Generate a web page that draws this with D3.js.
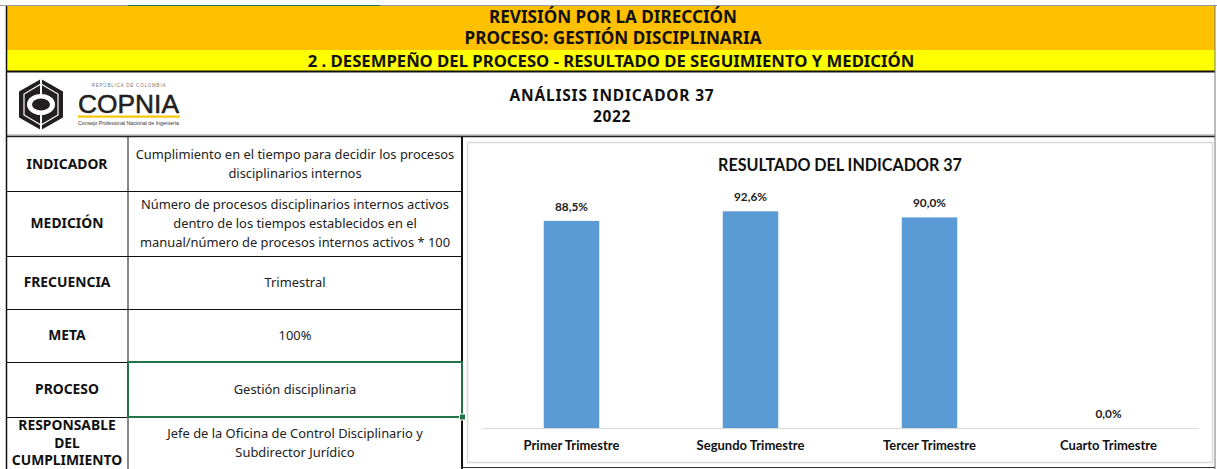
<!DOCTYPE html>
<html>
<head>
<meta charset="utf-8">
<script src="https://cdn.jsdelivr.net/npm/d3@7/dist/d3.min.js"></script>
<style>
  body { margin: 0; background: #fff; }
  svg { display: block; }
</style>
</head>
<body>
<svg id="sheet"></svg>
<script>
// ---- data ----
const headerLines = ['REVISIÓN POR LA DIRECCIÓN', 'PROCESO: GESTIÓN DISCIPLINARIA'];
const sectionTitle = '2 . DESEMPEÑO DEL PROCESO - RESULTADO DE SEGUIMIENTO Y MEDICIÓN';
const analysisTitle = ['ANÁLISIS INDICADOR 37', '2022'];

const rowLabels = [
  ['INDICADOR'],
  ['MEDICIÓN'],
  ['FRECUENCIA'],
  ['META'],
  ['PROCESO'],
  ['RESPONSABLE', 'DEL', 'CUMPLIMIENTO']
];
const rowValues = [
  ['Cumplimiento en el tiempo para decidir los procesos', 'disciplinarios internos'],
  ['Número de procesos disciplinarios internos activos', 'dentro de los tiempos establecidos en el', 'manual/número de procesos internos activos * 100'],
  ['Trimestral'],
  ['100%'],
  ['Gestión disciplinaria'],
  ['Jefe de la Oficina de Control Disciplinario y', 'Subdirector Jurídico']
];

const chartTitle = 'RESULTADO DEL INDICADOR 37';
const quarters = ['Primer Trimestre', 'Segundo Trimestre', 'Tercer Trimestre', 'Cuarto Trimestre'];
const results = [88.5, 92.6, 90.0, 0.0];

// ---- layout ----
const W = 1217, H = 469;
const svg = d3.select('#sheet').attr('width', W).attr('height', H);

const tableFont = '"Noto Sans", "DejaVu Sans", sans-serif';
const chartFont = 'Lato, "Open Sans", sans-serif';

function textWidth(family, weight, size, str) {
  const t = svg.append('text')
      .style('font-family', family).style('font-weight', weight)
      .style('font-size', size + 'px').text(str);
  const w = t.node().getComputedTextLength();
  t.remove();
  return w;
}

// font size so that a string is as wide as in the reference
function fitSize(family, weight, str, target) {
  return 20 * target / textWidth(family, weight, 20, str);
}

// letter spacing that brings a string at a given size to the reference width
function fitSpacing(family, weight, size, str, target) {
  return (target - textWidth(family, weight, size, str)) / str.length;
}

// header bands
svg.append('rect').attr('x', 6).attr('y', 6).attr('width', 1209).attr('height', 44).attr('fill', '#ffc000');
svg.append('rect').attr('x', 6).attr('y', 50).attr('width', 1209).attr('height', 21).attr('fill', '#ffff00');
svg.append('line').attr('x1', 0).attr('x2', W).attr('y1', 5.5).attr('y2', 5.5).attr('stroke', '#9a9a9a');
svg.append('line').attr('x1', 128).attr('x2', 380).attr('y1', 5.5).attr('y2', 5.5).attr('stroke', '#217346');
svg.append('line').attr('x1', 6).attr('x2', 1215).attr('y1', 71.5).attr('y2', 71.5).attr('stroke', '#111').attr('stroke-width', 2);
svg.append('line').attr('x1', 6).attr('x2', 1215).attr('y1', 135).attr('y2', 135).attr('stroke', '#999');
svg.append('line').attr('x1', 6).attr('x2', 1215).attr('y1', 136.5).attr('y2', 136.5).attr('stroke', '#222').attr('stroke-width', 1.5);

const hdrWidths = [248, 297];
const hdrSize = fitSize(tableFont, 700, headerLines[0], 248);
svg.selectAll('.hdr')
  .data(headerLines)
  .join('text')
    .attr('class', 'hdr')
    .attr('x', 613)
    .attr('y', (d, i) => 17 + i * 21)
    .attr('dy', '0.36em')
    .attr('text-anchor', 'middle')
    .style('font-family', tableFont).style('font-weight', 700)
    .style('font-size', hdrSize + 'px').attr('fill', '#111')
    .attr('letter-spacing', (d, i) => fitSpacing(tableFont, 700, hdrSize, d, hdrWidths[i]))
    .text(d => d);

svg.append('text')
    .attr('x', 611).attr('y', 61).attr('dy', '0.36em')
    .attr('text-anchor', 'middle')
    .style('font-family', tableFont).style('font-weight', 700)
    .style('font-size', fitSize(tableFont, 700, sectionTitle, 607) + 'px')
    .attr('fill', '#111')
    .text(sectionTitle);

const anWidths = [205, 38];
const anSize = 0.92 * fitSize(tableFont, 700, analysisTitle[0], 205);
svg.selectAll('.an')
  .data(analysisTitle)
  .join('text')
    .attr('class', 'an')
    .attr('x', 612)
    .attr('y', (d, i) => 95 + i * 21)
    .attr('dy', '0.36em')
    .attr('text-anchor', 'middle')
    .style('font-family', tableFont).style('font-weight', 700)
    .style('font-size', anSize + 'px').attr('fill', '#111')
    .attr('letter-spacing', (d, i) => fitSpacing(tableFont, 700, anSize, d, anWidths[i]))
    .text(d => d);

// logo
const logo = svg.append('g');
const hex = [[41, 79], [63, 91.5], [63, 117.5], [41, 130], [19, 117.5], [19, 91.5]];
logo.append('path').attr('d', d3.line()(hex) + 'Z').attr('fill', '#231f20');
logo.append('path').attr('d', d3.line()([[41, 84], [58, 94], [58, 115], [41, 125], [24, 115], [24, 94]]) + 'Z')
    .attr('fill', 'none').attr('stroke', '#fff').attr('stroke-width', 1.2);
logo.append('ellipse').attr('cx', 41).attr('cy', 104.5).attr('rx', 14).attr('ry', 10.5).attr('fill', '#fff');
logo.append('ellipse').attr('cx', 41).attr('cy', 104.5).attr('rx', 9).attr('ry', 6).attr('fill', '#231f20');
logo.append('line').attr('x1', 41).attr('x2', 41).attr('y1', 78).attr('y2', 94).attr('stroke', '#fff').attr('stroke-width', 2);
logo.append('line').attr('x1', 41).attr('x2', 41).attr('y1', 115).attr('y2', 131).attr('stroke', '#fff').attr('stroke-width', 2);
logo.append('text').attr('x', 129).attr('y', 86.5).attr('text-anchor', 'middle')
    .style('font-family', 'Liberation Sans, sans-serif').style('font-size', '4.5px').attr('fill', '#777')
    .attr('letter-spacing', 0.8).text('REPÚBLICA DE COLOMBIA');
logo.append('text').attr('x', 78).attr('y', 113).attr('textLength', 101).attr('lengthAdjust', 'spacingAndGlyphs')
    .style('font-family', '"Liberation Sans Narrow", "Liberation Sans", sans-serif').style('font-size', '25px')
    .attr('fill', '#231f20').attr('stroke', '#231f20').attr('stroke-width', 0.5)
    .text('COPNIA');
logo.append('rect').attr('x', 78).attr('y', 115.5).attr('width', 102).attr('height', 2.2).attr('fill', '#f7c600');
logo.append('text').attr('x', 78).attr('y', 125).attr('textLength', 101).attr('lengthAdjust', 'spacingAndGlyphs')
    .style('font-family', 'Liberation Sans, sans-serif').style('font-size', '5px').attr('fill', '#333')
    .text('Consejo Profesional Nacional de Ingeniería');

// ---- table ----
const rowEdges = [137, 191, 256, 309, 362, 417, 469];
const labelSize = fitSize(tableFont, 700, 'INDICADOR', 81);
const valueSize = fitSize(tableFont, 400, rowValues[0][0], 319);

const rows = svg.selectAll('.row')
  .data(rowLabels.map((l, i) => ({label: l, value: rowValues[i], y0: rowEdges[i], y1: rowEdges[i + 1]})))
  .join('g')
    .attr('class', 'row');

rows.append('line')
    .attr('x1', 6).attr('x2', 462)
    .attr('y1', d => d.y1 + 0.5).attr('y2', d => d.y1 + 0.5)
    .attr('stroke', '#111');

rows.each(function(d) {
  const g = d3.select(this);
  const mid = (d.y0 + d.y1) / 2;
  g.selectAll('.lab').data(d.label).join('text')
      .attr('class', 'lab')
      .attr('x', 67)
      .attr('y', (t, i) => mid + (i - (d.label.length - 1) / 2) * 17.5)
      .attr('dy', '0.36em').attr('text-anchor', 'middle')
      .style('font-family', tableFont).style('font-weight', 700)
      .style('font-size', labelSize + 'px').attr('fill', '#111')
      .text(t => t);
  g.selectAll('.val').data(d.value).join('text')
      .attr('class', 'val')
      .attr('x', 295)
      .attr('y', (t, i) => mid + (i - (d.value.length - 1) / 2) * 19)
      .attr('dy', '0.36em').attr('text-anchor', 'middle')
      .style('font-family', tableFont).style('font-weight', 400)
      .style('font-size', valueSize + 'px').attr('fill', '#222')
      .text(t => t);
});

svg.append('line').attr('x1', 6.5).attr('x2', 6.5).attr('y1', 6).attr('y2', H).attr('stroke', '#111').attr('stroke-width', 1.5);
svg.append('line').attr('x1', 128).attr('x2', 128).attr('y1', 137).attr('y2', H).attr('stroke', '#111');
svg.append('line').attr('x1', 462).attr('x2', 462).attr('y1', 137).attr('y2', H).attr('stroke', '#111').attr('stroke-width', 2);
svg.append('line').attr('x1', 1215).attr('x2', 1215).attr('y1', 5).attr('y2', H).attr('stroke', '#777');
svg.append('line').attr('x1', 462).attr('x2', 1215).attr('y1', 467.5).attr('y2', 467.5).attr('stroke', '#333');

// excel selection around the PROCESO value cell
svg.append('rect').attr('x', 128).attr('y', 362).attr('width', 334).attr('height', 55)
    .attr('fill', 'none').attr('stroke', '#217346').attr('stroke-width', 2);
svg.append('rect').attr('x', 459.5).attr('y', 414).attr('width', 6).attr('height', 6)
    .attr('fill', '#217346').attr('stroke', '#fff').attr('stroke-width', 1);

// ---- chart ----
svg.append('rect').attr('x', 467.5).attr('y', 142.5).attr('width', 745).attr('height', 320)
    .attr('fill', '#fff').attr('stroke', '#d9d9d9').attr('stroke-width', 1.5);

svg.append('text')
    .attr('x', 840).attr('y', 165).attr('dy', '0.36em').attr('text-anchor', 'middle')
    .style('font-family', chartFont).style('font-weight', 700)
    .style('font-size', fitSize(chartFont, 700, chartTitle, 244) + 'px')
    .attr('fill', '#111')
    .text(chartTitle);

const x = d3.scaleBand()
    .domain(quarters)
    .range([482, 1198])
    .paddingInner(0.69)
    .paddingOuter(0.345);

const y = d3.scaleLinear()
    .domain([0, 100])
    .range([428, 194]);

const catSize = fitSize(chartFont, 700, quarters[0], 96);
const xAxis = d3.axisBottom(x).tickSize(0).tickSizeOuter(0).tickPadding(13);
const xAxisG = svg.append('g')
    .attr('transform', 'translate(0,428)')
    .call(xAxis);
xAxisG.select('.domain').attr('stroke', '#d9d9d9').attr('stroke-width', 1.2);
xAxisG.selectAll('text')
    .style('font-family', chartFont).style('font-weight', 700)
    .style('font-size', catSize + 'px').attr('fill', '#111');

svg.selectAll('.bar')
  .data(results)
  .join('rect')
    .attr('class', 'bar')
    .attr('x', (d, i) => x(quarters[i]))
    .attr('width', x.bandwidth())
    .attr('y', d => y(d))
    .attr('height', d => y(0) - y(d))
    .attr('fill', '#5b9bd5');

const valSize = fitSize(chartFont, 700, '88,5%', 33);
svg.selectAll('.vlab')
  .data(results)
  .join('text')
    .attr('class', 'vlab')
    .attr('x', (d, i) => x(quarters[i]) + x.bandwidth() / 2)
    .attr('y', d => y(d) - 10)
    .attr('text-anchor', 'middle')
    .style('font-family', chartFont).style('font-weight', 700)
    .style('font-size', valSize + 'px').attr('fill', '#222')
    .text(d => d.toFixed(1).replace('.', ',') + '%');
</script>
</body>
</html>
